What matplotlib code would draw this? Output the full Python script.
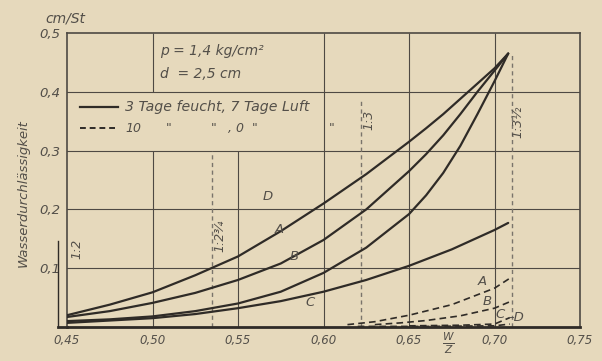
import matplotlib
matplotlib.use("Agg")
import matplotlib.pyplot as plt

# ---------------- data ----------------
x_ticks = [0.45, 0.50, 0.55, 0.60, 0.65, 0.70, 0.75]
x_tick_labels = ["0,45", "0,50", "0,55", "0,60", "0,65", "0,70", "0,75"]
y_ticks = [0.1, 0.2, 0.3, 0.4, 0.5]
y_tick_labels = ["0,1", "0,2", "0,3", "0,4", "0,5"]

# solid curves: 3 Tage feucht, 7 Tage Luft
D_x = [0.45, 0.475, 0.50, 0.525, 0.55, 0.575, 0.60, 0.625, 0.65, 0.66, 0.67, 0.68, 0.69, 0.70, 0.708]
D_y = [0.020, 0.038, 0.059, 0.088, 0.120, 0.163, 0.210, 0.260, 0.315, 0.338, 0.362, 0.388, 0.414, 0.440, 0.465]
A_x = [0.45, 0.475, 0.50, 0.525, 0.55, 0.575, 0.60, 0.625, 0.65, 0.66, 0.67, 0.68, 0.69, 0.70, 0.708]
A_y = [0.017, 0.027, 0.041, 0.058, 0.080, 0.108, 0.148, 0.200, 0.265, 0.294, 0.326, 0.362, 0.400, 0.436, 0.465]
B_x = [0.45, 0.475, 0.50, 0.525, 0.55, 0.575, 0.60, 0.625, 0.65, 0.66, 0.67, 0.68, 0.69, 0.70, 0.708]
B_y = [0.010, 0.013, 0.018, 0.027, 0.040, 0.060, 0.092, 0.135, 0.192, 0.224, 0.262, 0.308, 0.362, 0.418, 0.465]
C_x = [0.45, 0.50, 0.525, 0.55, 0.575, 0.60, 0.625, 0.65, 0.675, 0.70, 0.708]
C_y = [0.007, 0.015, 0.022, 0.032, 0.044, 0.060, 0.080, 0.104, 0.132, 0.165, 0.177]

# dashed curves: 10 Tage feucht, 0 Tage Luft
Ad_x = [0.614, 0.63, 0.65, 0.675, 0.70, 0.709]
Ad_y = [0.004, 0.009, 0.020, 0.038, 0.066, 0.083]
Bd_x = [0.63, 0.645, 0.66, 0.68, 0.70, 0.709]
Bd_y = [0.004, 0.007, 0.011, 0.019, 0.032, 0.043]
Cd_x = [0.65, 0.68, 0.70, 0.709]
Cd_y = [0.002, 0.003, 0.005, 0.016]
Dd_x = [0.62, 0.66, 0.70, 0.709]
Dd_y = [0.001, 0.001, 0.002, 0.005]

# mix ratio lines (Zement : Zuschlag)
ratio_x = [0.5345, 0.622, 0.710]
ratio_top = [0.30, 0.39, 0.465]
ratio_labels = ["1:2¾", "1:3", "1:3½"]
ratio_label_pos = [(0.5395, 0.155), (0.6266, 0.352), (0.7137, 0.349)]

# ---------------- style ----------------
bg = "#e6d9bc"
ink = "#2f2b27"
grid_c = "#4e4943"
txt = "#534f49"
ital = dict(style="oblique", family="DejaVu Sans", color=txt)

fig = plt.figure(figsize=(6.02, 3.61), dpi=100, facecolor=bg)
ax = fig.add_axes([0.1113, 0.0942, 0.8522, 0.8144])
ax.set_facecolor(bg)
ax.set_xlim(0.45, 0.75)
ax.set_ylim(0, 0.5)

for s in ax.spines.values():
    s.set_color(grid_c)
    s.set_linewidth(1.2)
ax.spines["bottom"].set_linewidth(2.0)
ax.spines["bottom"].set_color(ink)

ax.set_xticks(x_ticks)
ax.set_xticklabels(x_tick_labels, fontsize=8.5, **ital)
ax.set_yticks(y_ticks)
ax.set_yticklabels(y_tick_labels, fontsize=9.5, **ital)
ax.tick_params(axis="both", length=0)
ax.tick_params(axis="x", pad=5)
ax.tick_params(axis="y", pad=5)

# grid
for yv in [0.1, 0.2, 0.3, 0.4]:
    ax.axhline(yv, color=grid_c, lw=0.8, zorder=1)
grid_segments = [(0.50, 0.0, 0.3), (0.50, 0.4, 0.5), (0.55, 0.0, 0.3),
                 (0.60, 0.0, 0.5), (0.65, 0.0, 0.5), (0.70, 0.0, 0.5)]
for xv, y0, y1 in grid_segments:
    ax.vlines(xv, y0, y1, color=grid_c, lw=0.8, zorder=1)

# ratio dashed verticals
for xv, yt in zip(ratio_x, ratio_top):
    ax.vlines(xv, 0, yt, color="#7a746b", lw=1.0, linestyles=(0, (3, 2.5)), zorder=1)
for (lx, ly), lab in zip(ratio_label_pos, ratio_labels):
    ax.text(lx, ly, lab, rotation=90, ha="center", va="center", fontsize=9, **ital)

# 1:2 line left of axis
ax.plot([0.4447, 0.4447], [0, 0.146], color=ink, lw=1.0, clip_on=False)
ax.plot([0.4447, 0.45], [0, 0], color=ink, lw=2.0, clip_on=False)
ax.text(0.4558, 0.133, "1:2", rotation=90, ha="center", va="center", fontsize=9, **ital)

# curves
for xs, ys in [(D_x, D_y), (A_x, A_y), (B_x, B_y), (C_x, C_y)]:
    ax.plot(xs, ys, color=ink, lw=1.6, solid_capstyle="round", solid_joinstyle="round", zorder=3)
for xs, ys in [(Ad_x, Ad_y), (Bd_x, Bd_y), (Cd_x, Cd_y), (Dd_x, Dd_y)]:
    ax.plot(xs, ys, color=ink, lw=1.2, linestyle=(0, (4, 2.5)), zorder=3)

# curve labels
curve_labels = [("D", 0.5672, 0.222), ("A", 0.5742, 0.166), ("B", 0.5830, 0.120),
                ("C", 0.5924, 0.042),
                ("A", 0.6927, 0.078), ("B", 0.6956, 0.043), ("C", 0.7032, 0.021),
                ("–D", 0.7125, 0.016)]
for lab, lx, ly in curve_labels:
    ax.text(lx, ly, lab, ha="center", va="center", fontsize=9.5, **ital)

# parameter box text
ax.text(0.5045, 0.470, "p = 1,4 kg/cm²", ha="left", va="center", fontsize=10, **ital)
ax.text(0.5045, 0.431, "d  = 2,5 cm", ha="left", va="center", fontsize=10, **ital)

# legend
ax.plot([0.4576, 0.4798], [0.374, 0.374], color=ink, lw=1.6)
ax.plot([0.4576, 0.4798], [0.338, 0.338], color=ink, lw=1.4, linestyle=(0, (3, 2)))
ax.text(0.4839, 0.374, "3 Tage feucht, 7 Tage Luft", ha="left", va="center", fontsize=10.2, **ital)
ditto = [("10", 0.4839), ('"', 0.5080), ('"', 0.5340), (", 0", 0.5440), ('"', 0.5580), ('"', 0.6030)]
for s, lx in ditto:
    ax.text(lx, 0.338, s, ha="left", va="center", fontsize=9, **ital)

# axis texts
fig.text(65 / 602, 1 - 18 / 361, "cm/St", ha="center", va="center", fontsize=10, **ital)
fig.text(23 / 602, 1 - 193 / 361, "Wasserdurchlässigkeit", rotation=90,
         ha="center", va="center", fontsize=9.5, **ital)
fig.text(448 / 602, 1 - 343 / 361, r"$\frac{W}{Z}$", ha="center", va="center",
         fontsize=11, color=txt)

fig.savefig("out.png", dpi=100, facecolor=bg)
